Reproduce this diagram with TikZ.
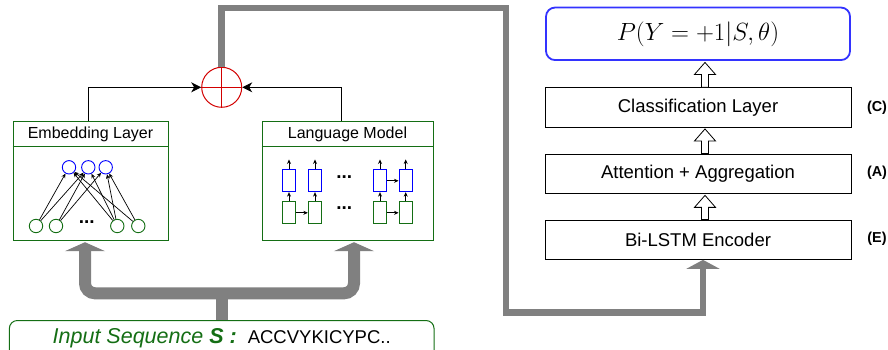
\documentclass[tikz,border=0pt]{standalone}
\usepackage{fontspec}
\setmainfont{Liberation Sans}
\usepackage{tikz}
\usetikzlibrary{calc, arrows.meta}
\usepackage{xcolor}
\definecolor{boxgreen}{RGB}{20,110,20}
\definecolor{cellblue}{RGB}{0,0,255}
\definecolor{probblue}{RGB}{51,51,255}
\definecolor{sumred}{RGB}{210,0,0}
\definecolor{linkgray}{RGB}{128,128,128}

\newcommand{\hollowup}[2]{%
  \draw[hollow] let \p1=($(#1.north)+(7pt,0)$), \p2=($(#2.south)+(7pt,-1.5pt)$) in
    (\x1-3.5pt,\y1) -- (\x1-3.5pt,\y2-12pt) -- (\x1-10.5pt,\y2-12pt) -- (\x2,\y2)
    -- (\x1+10.5pt,\y2-12pt) -- (\x1+3.5pt,\y2-12pt) -- (\x1+3.5pt,\y1) -- cycle;}

\begin{document}
\begin{tikzpicture}[x=1pt, y=1pt,
    rbox/.style={draw, line width=0.8pt, minimum width=306pt, minimum height=39.5pt, inner sep=0pt, font=\fontsize{18.5}{20}\selectfont},
    pbox/.style={draw=probblue, line width=1.8pt, rounded corners=9pt, minimum width=304pt, minimum height=52.5pt, inner sep=0pt, font=\fontsize{24}{26}\selectfont},
    tag/.style={font=\bfseries\fontsize{14.4}{16}\selectfont},
    lbox/.style={draw=boxgreen, line width=1pt, inner sep=0pt, minimum height=119pt},
    ltitle/.style={font=\fontsize{16}{17}\selectfont},
    inbox/.style={draw=boxgreen, line width=1pt, rounded corners=8pt, minimum width=424.7pt, inner xsep=0pt, inner ysep=6pt, text height=17pt, text depth=40pt, font=\fontsize{21.5}{23}\selectfont, anchor=north},
    bcell/.style={circle, draw=cellblue, line width=0.9pt, minimum size=13.4pt, inner sep=0pt},
    gcell/.style={circle, draw=boxgreen, line width=0.9pt, minimum size=13.4pt, inner sep=0pt},
    brect/.style={draw=cellblue, line width=1pt, minimum width=13.3pt, minimum height=21.7pt, inner sep=0pt},
    grect/.style={draw=boxgreen, line width=1pt, minimum width=13.3pt, minimum height=21.7pt, inner sep=0pt},
    wire/.style={line width=0.7pt, -{Stealth[length=4.5pt, width=4pt]}},
    feed/.style={line width=0.9pt, -{Stealth[length=10pt, width=10pt, inset=3pt]}},
    link/.style={draw=linkgray, line width=6.7pt},
    fork/.style={draw=linkgray, line width=12pt},
    hollow/.style={draw, line width=0.8pt, fill=white},
    dots/.style={font=\bfseries\fontsize{19}{19}\selectfont},
  ]
  \useasboundingbox (0,0) rectangle (888,349);

  \node[pbox] (prob) at (698,315.2) {$P(Y=+1|S,\theta)$};
  \node[rbox] (cls) at (698,241.7) {Classification Layer};
  \node[rbox] (att) at (698,175.3) {Attention + Aggregation};
  \node[rbox] (enc) at (698,109.3) {Bi-LSTM Encoder};
  \node[tag] (tagc) at (877,241.7) {(C)};
  \node[tag] (taga) at (877,176) {(A)};
  \node[tag] (tage) at (877,110) {(E)};
  \hollowup{cls}{prob}
  \hollowup{att}{cls}
  \hollowup{enc}{att}

  \node[lbox, minimum width=155pt] (emb) at (90.5,168.5) {};
  \node[lbox, minimum width=171pt] (lm) at (347.5,168.5) {};
  \draw[boxgreen, line width=1pt] ([yshift=-26pt]emb.north west) -- ([yshift=-26pt]emb.north east);
  \draw[boxgreen, line width=1pt] ([yshift=-26pt]lm.north west) -- ([yshift=-26pt]lm.north east);
  \node[ltitle] (embt) at (90.5,215) {Embedding Layer};
  \node[ltitle] (lmt) at (347.5,215) {Language Model};

  \foreach \i/\x in {1/69,2/88.3,3/105.7}
    \node[bcell] (b\i) at (\x,181.7) {};
  \foreach \i/\x in {1/36,2/56,3/117.3,4/138.3}
    \node[gcell] (g\i) at (\x,123) {};
  \node[dots] (edots) at (86.7,127) {...};
  \foreach \g/\b in {1/1,1/2,2/2,2/3,3/1,3/2,3/3,4/1,4/3}
    \draw[wire] (g\g) -- (b\b);

  \foreach \i/\x in {1/289,2/315,3/380,4/405.7} {
    \node[brect] (h\i) at (\x,168.2) {};
    \node[grect] (e\i) at (\x,136.2) {};
    \draw[wire] (e\i) -- (h\i);
    \draw[wire] (h\i.north) -- ++(0,10);
  }
  \draw[wire] (e1) -- (e2);
  \draw[wire] (e3) -- (e4);
  \draw[wire] (h3) -- (h4);
  \node[dots] (ldots1) at (344.3,172) {...};
  \node[dots] (ldots2) at (344.3,141) {...};

  \node[circle, draw=sumred, line width=1pt, minimum size=40pt, inner sep=0pt] (sum) at (221.7,261.7) {};
  \draw[sumred, line width=1pt] (sum.north) -- (sum.south) (sum.west) -- (sum.east);
  \draw[feed] ([xshift=-2.5pt]emb.north) |- (sum.west);
  \draw[feed] ([xshift=-6.5pt]lm.north) |- (sum.east);

  \coordinate (ltop) at (506,341);
  \coordinate (lbot) at (703,36.3);
  \draw[link, -{Triangle[width=33pt, length=9pt]}] (sum.north) |- (ltop) |- (lbot) -- (lbot |- enc.south);

  \node[inbox] (inseq) at (221.7,29) {{\color{boxgreen}\itshape Input Sequence \textbf{S} \textbf{:}}\hspace{11pt}{\fontsize{18.5}{20}\selectfont ACCVYKICYPC..}};
  \coordinate (fmid) at (221.7,55.7);
  \draw[fork] (inseq.north) -- (fmid);
  \draw[fork, rounded corners=10pt, {Triangle[width=40pt, length=9pt]}-{Triangle[width=40pt, length=9pt]}] ([xshift=-5.5pt, yshift=-1.7pt]emb.south) |- (fmid) -| ([xshift=6.5pt, yshift=-1.7pt]lm.south);
\end{tikzpicture}
\end{document}
